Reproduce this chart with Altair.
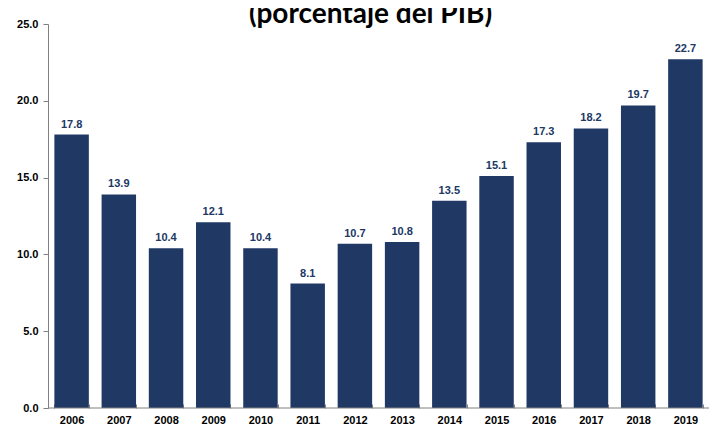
import altair as alt
import pandas as pd

years = ["2006", "2007", "2008", "2009", "2010", "2011", "2012",
         "2013", "2014", "2015", "2016", "2017", "2018", "2019"]
values = [17.8, 13.9, 10.4, 12.1, 10.4, 8.1, 10.7, 10.8, 13.5, 15.1, 17.3, 18.2, 19.7, 22.7]
title_text = "(porcentaje del PIB)"

df = pd.DataFrame({"year": years, "value": values})

NAVY = "#203864"
AXIS_GRAY = "#808080"

x_enc = alt.X(
    "year:N",
    sort=years,
    title=None,
    scale=alt.Scale(paddingInner=0.27, paddingOuter=0.135),
    axis=alt.Axis(
        domain=False,
        tickBand="extent",
        tickSize=4,
        tickColor=AXIS_GRAY,
        offset=-4,
        labelAngle=0,
        labelPadding=6,
        labelFont="Liberation Sans",
        labelFontWeight="bold",
        labelFontSize=11,
        labelColor="#000000",
    ),
)

y_enc = alt.Y(
    "value:Q",
    title=None,
    scale=alt.Scale(domain=[0, 25], nice=False),
    axis=alt.Axis(
        values=[0, 5, 10, 15, 20, 25],
        format=".1f",
        grid=False,
        domainColor=AXIS_GRAY,
        tickColor=AXIS_GRAY,
        tickSize=5,
        labelPadding=5,
        labelFont="Liberation Sans",
        labelFontWeight="bold",
        labelFontSize=11,
        labelColor="#000000",
    ),
)

base = alt.Chart(df)

bars = base.mark_bar(color=NAVY).encode(x=x_enc, y=y_enc)

labels = base.mark_text(
    color=NAVY,
    font="Liberation Sans",
    fontWeight="bold",
    fontSize=11,
    baseline="alphabetic",
    dy=-7,
).encode(
    x=alt.X("year:N", sort=years),
    y=alt.Y("value:Q"),
    text=alt.Text("value:Q", format=".1f"),
)

baseline_rule = alt.Chart(pd.DataFrame({"zero": [0]})).mark_rule(
    color=AXIS_GRAY, strokeWidth=1
).encode(y=alt.Y("zero:Q"), x=alt.value(0), x2=alt.value(670))

chart = (
    alt.layer(bars, labels, baseline_rule)
    .properties(
        width=661,
        height=384,
        title=alt.Title(
            title_text,
            font="Lato",
            fontSize=28,
            fontWeight="bold",
            color="#000000",
            anchor="middle",
            dx=-8,
            dy=33,
            offset=0,
            baseline="alphabetic",
        ),
        autosize=alt.AutoSizeParams(type="none"),
        padding={"left": 40, "top": 16, "right": 0, "bottom": 25},
    )
    .configure_view(stroke=None)
)

chart.save("out.html", embed_options={"renderer": "svg", "actions": False})
